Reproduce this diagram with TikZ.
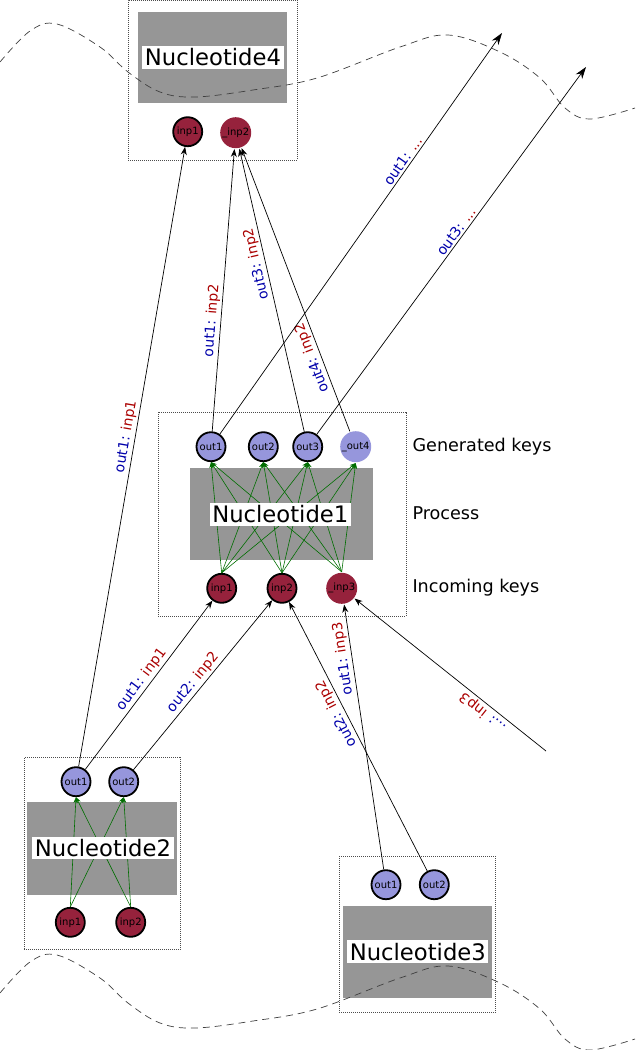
\documentclass[tikz,border=0pt]{standalone}
\usepackage{fontspec}
\setmainfont{DejaVu Sans}
\usepackage{xcolor}
\usetikzlibrary{arrows.meta}

\definecolor{procgray}{RGB}{150,150,150}
\definecolor{keyblue}{RGB}{150,150,220}
\definecolor{keyred}{RGB}{150,34,60}
\definecolor{flowgreen}{RGB}{0,110,0}
\definecolor{srcblue}{RGB}{0,0,170}
\definecolor{dstred}{RGB}{170,0,0}

\begin{document}
\begin{tikzpicture}[x=1pt, y=-1pt,
  frame/.style={draw=black!70, line width=0.5pt, dash pattern=on 0.7pt off 1.3pt, inner sep=0},
  proc/.style={fill=procgray, inner sep=0},
  title/.style={fill=white, inner sep=2.5pt, font=\fontsize{22.7}{26}\selectfont},
  outkey/.style={circle, draw, line width=1.8pt, fill=keyblue, minimum size=29pt, inner sep=0, font=\fontsize{10}{12}\selectfont},
  inkey/.style={outkey, fill=keyred},
  loose/.style={draw=none, minimum size=31pt},
  flow/.style={-{Stealth[length=6pt, width=4.5pt]}, draw=flowgreen, line width=0.6pt},
  link/.style={-{Stealth[length=8pt, width=6pt]}, line width=0.7pt},
  openlink/.style={-{Stealth[length=12pt, width=8pt]}, line width=0.7pt},
  lbl/.style={sloped, allow upside down, above, inner sep=2pt, font=\fontsize{14}{16}\selectfont},
  side/.style={anchor=west, font=\fontsize{17.6}{20}\selectfont},
  wave/.style={draw=black!75, line width=0.7pt, dash pattern=on 7pt off 5pt},
]
\useasboundingbox (0,0) rectangle (635,1050);

% frames
\node[frame, minimum width=169pt, minimum height=160pt] (f4) at (212.5,80) {};
\node[frame, minimum width=247.7pt, minimum height=204.3pt] (f1) at (282.2,513.9) {};
\node[frame, minimum width=156.7pt, minimum height=192pt] (f2) at (102.3,853.3) {};
\node[frame, minimum width=156pt, minimum height=156.3pt] (f3) at (417.3,934.2) {};

% process boxes
\node[proc, minimum width=149pt, minimum height=91.6pt] (p4) at (212.8,57.5) {};
\node[proc, minimum width=183.3pt, minimum height=91.7pt] (p1) at (281.7,514.2) {};
\node[proc, minimum width=150pt, minimum height=92.7pt] (p2) at (102.3,848.7) {};
\node[proc, minimum width=149pt, minimum height=92pt] (p3) at (417.2,952) {};

% boundaries
\foreach \dy in {0,931}{
  \draw[wave, shift={(0,\dy)}] plot[smooth, tension=0.6] coordinates {(0,62) (30,31) (57,24) (100,47) (128,72) (160,92) (195,97) (253,90) (317,78) (400,47) (448,35) (500,52) (540,78) (565,108) (590,119) (635,108)};
}

% keys
\node[inkey] (n4inp1) at (187.7,131.7) {inp1};
\node[inkey, loose] (n4inp2) at (235.7,132.7) {\_inp2};

\node[outkey] (n1out1) at (211,446.7) {out1};
\node[outkey] (n1out2) at (263.3,446.7) {out2};
\node[outkey] (n1out3) at (307.7,446.7) {out3};
\node[outkey, loose] (n1out4) at (355.7,446.7) {\_out4};
\node[inkey] (n1inp1) at (221.7,588.3) {inp1};
\node[inkey] (n1inp2) at (282,588.3) {inp2};
\node[inkey, loose] (n1inp3) at (341.7,588.3) {\_inp3};

\node[outkey] (n2out1) at (76,781.7) {out1};
\node[outkey] (n2out2) at (123.7,781.7) {out2};
\node[inkey] (n2inp1) at (70.3,922.3) {inp1};
\node[inkey] (n2inp2) at (130.7,922.3) {inp2};

\node[outkey] (n3out1) at (386,884.7) {out1};
\node[outkey] (n3out2) at (434.3,884.7) {out2};

% internal flows
\foreach \i in {1,2,3}
  \foreach \o in {1,2,3,4}
    \draw[flow] (n1inp\i.north) -- (n1out\o.south);
\foreach \i in {1,2}
  \foreach \o in {1,2}
    \draw[flow] (n2inp\i.north) -- (n2out\o.south);

% titles
\node[title] (t4) at (213,57.5) {Nucleotide4};
\node[title] (t1) at (280.3,514.5) {Nucleotide1};
\node[title] (t2) at (103,848) {Nucleotide2};
\node[title] (t3) at (417.8,951.7) {Nucleotide3};

% links between nucleotides
\coordinate (to1) at (502,33);
\coordinate (to3) at (586,67);
\coordinate (from3) at (546,751);

\draw[link] (n2out1) -- (n4inp1) node[lbl, pos=0.53] {\textcolor{srcblue}{out1:} \textcolor{dstred}{inp1}};
\draw[link] (n2out1) -- (n1inp1) node[lbl, pos=0.5] {\textcolor{srcblue}{out1:} \textcolor{dstred}{inp1}};
\draw[link] (n2out2) -- (n1inp2) node[lbl, pos=0.48] {\textcolor{srcblue}{out2:} \textcolor{dstred}{inp2}};
\draw[link] (n3out1) -- (n1inp3) node[lbl, pos=0.8] {\textcolor{srcblue}{out1:} \textcolor{dstred}{inp3}};
\draw[link] (n3out2) -- (n1inp2) node[lbl, pos=0.6] {\textcolor{srcblue}{out2:} \textcolor{dstred}{inp2}};
\draw[link] (from3) -- (n1inp3) node[lbl, pos=0.3] {\textcolor{srcblue}{...:} \textcolor{dstred}{inp3}};
\draw[link] (n1out1) -- (n4inp2) node[lbl, pos=0.39] {\textcolor{srcblue}{out1:} \textcolor{dstred}{inp2}};
\draw[link] (n1out3) -- (n4inp2) node[lbl, pos=0.6] {\textcolor{srcblue}{out3:} \textcolor{dstred}{inp2}};
\draw[link] (n1out4) -- (n4inp2) node[lbl, pos=0.27] {\textcolor{srcblue}{out4:} \textcolor{dstred}{inp2}};
\draw[openlink] (n1out1) -- (to1) node[lbl, pos=0.67] {\textcolor{srcblue}{out1:} \textcolor{dstred}{...}};
\draw[openlink] (n1out3) -- (to3) node[lbl, pos=0.54] {\textcolor{srcblue}{out3:} \textcolor{dstred}{...}};

% side notes
\node[side] (gen) at (409,446.7) {Generated keys};
\node[side] (prc) at (409,513.5) {Process};
\node[side] (inc) at (409,588) {Incoming keys};

\end{tikzpicture}
\end{document}
